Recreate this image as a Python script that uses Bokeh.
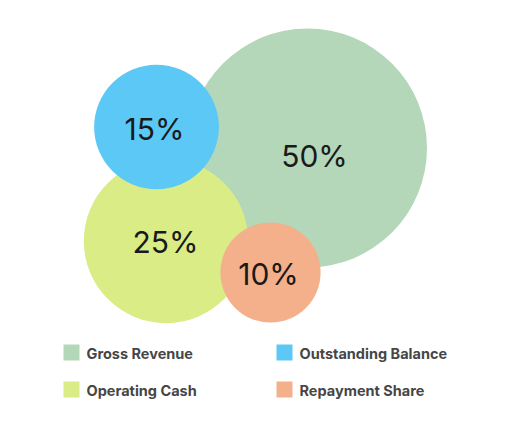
from bokeh.plotting import figure
from bokeh.models import Range1d, ColumnDataSource
from bokeh.core.properties import value
from bokeh.embed import file_html
from bokeh.resources import INLINE

# ---- data ----
categories = ["Gross Revenue", "Outstanding Balance", "Operating Cash", "Repayment Share"]
shares = [50, 15, 25, 10]
labels = ["50%", "15%", "25%", "10%"]
colors = ["#b3d7b8", "#5bc8f5", "#d9ec86", "#f3b08b"]

# ---- layout (pixel-like coordinates of the packed bubbles) ----
centers_x = [307, 156, 165.5, 270]
centers_y = [147.5, 126.5, 240.5, 272]
label_x = [314, 154, 165, 268]
label_y = [155, 128, 241, 273]
draw_order = [0, 2, 1, 3]

max_r = 119.5
exponent = 0.54
radii = [max_r * (v / max(shares)) ** exponent for v in shares]

W, H = 496, 417
p = figure(width=W, height=H, output_backend="svg", toolbar_location=None,
           x_range=Range1d(0, W), y_range=Range1d(H, 0),
           x_axis_type=None, y_axis_type=None, min_border=0)
p.grid.visible = False
p.outline_line_color = None
p.background_fill_color = "white"
p.border_fill_color = "white"

src = ColumnDataSource(dict(
    x=[centers_x[i] for i in draw_order],
    y=[centers_y[i] for i in draw_order],
    r=[radii[i] for i in draw_order],
    c=[colors[i] for i in draw_order],
))
p.circle(x="x", y="y", radius="r", fill_color="c", line_color=None, source=src)

p.text(x=label_x, y=label_y, text=labels, text_font=value("Inter"),
       text_font_size="30px", text_color="#1a1a1a",
       text_align="center", text_baseline="middle")

# ---- legend ----
leg_sq_x = [71, 284, 71, 284]
leg_sq_y = [352, 352, 389, 389]
p.rect(x=leg_sq_x, y=leg_sq_y, width=16, height=16, fill_color=colors,
       line_color=None)
p.text(x=[v + 15 for v in leg_sq_x], y=[v + 1 for v in leg_sq_y], text=categories,
       text_font=value("Inter"), text_font_size="14.5px", text_font_style="bold",
       text_color="#464646", text_align="left", text_baseline="middle")

open("out.html", "w").write(file_html(p, INLINE))
